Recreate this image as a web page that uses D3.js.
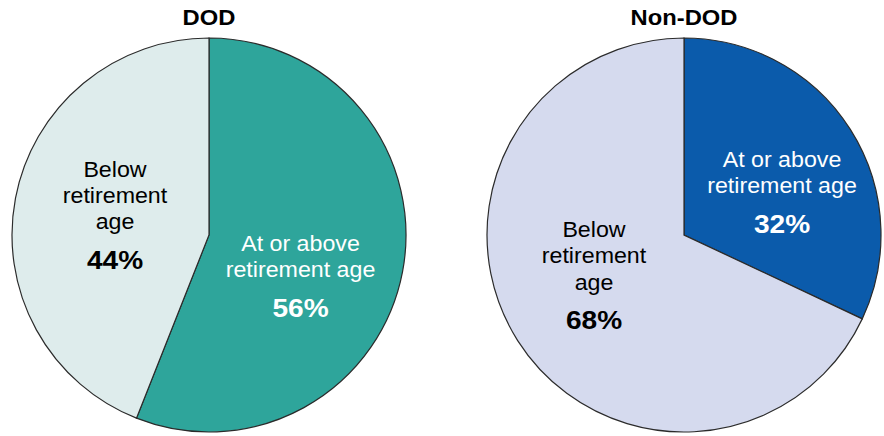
<!DOCTYPE html>
<html>
<head>
<meta charset="utf-8">
<script src="https://cdn.jsdelivr.net/npm/d3@7"></script>
<style>
  body { margin: 0; background: #fff; }
  svg { display: block; font-family: Arial, "Liberation Sans", sans-serif; }
</style>
</head>
<body>
<svg id="chart" width="884" height="436"></svg>
<script>
// Data
const panels = ["DOD", "Non-DOD"];
const categories = ["At or above retirement age", "Below retirement age"];
const dodValues = [56, 44];
const nonDodValues = [32, 68];
const dodColors = ["#2ea59b", "#deecec"];
const nonDodColors = ["#0b5bab", "#d5daee"];

const svg = d3.select("#chart");
const r = 197;
const cy = 235;
const centers = [209, 684];

const pie = d3.pie().sort(null).value(d => d).startAngle(0).endAngle(2 * Math.PI);
const arc = d3.arc().innerRadius(0).outerRadius(r);

// label layouts: [category index] -> {x, lines baselines, pct baseline, color}
const labelLayouts = [
  [
    { x: 300.5, lines: ["At or above", "retirement age"], ys: [251, 277], pctY: 316.5, color: "#fff" },
    { x: 115, lines: ["Below", "retirement", "age"], ys: [176.5, 202.5, 228.5], pctY: 269, color: "#000" }
  ],
  [
    { x: 782, lines: ["At or above", "retirement age"], ys: [166.5, 193], pctY: 232.5, color: "#fff" },
    { x: 594, lines: ["Below", "retirement", "age"], ys: [236.5, 263, 289.5], pctY: 329, color: "#000" }
  ]
];

const allValues = [dodValues, nonDodValues];
const allColors = [dodColors, nonDodColors];
const sx = 1.08;

panels.forEach((name, i) => {
  const g = svg.append("g").attr("transform", `translate(${centers[i]},${cy})`);
  g.selectAll("path")
    .data(pie(allValues[i]))
    .enter().append("path")
    .attr("d", arc)
    .attr("fill", (d, j) => allColors[i][j])
    .attr("stroke", "#2b2b2b")
    .attr("stroke-width", 1.2);

  svg.append("text")
    .attr("transform", `translate(${centers[i]},25) scale(${sx},1)`)
    .attr("text-anchor", "middle")
    .attr("font-size", 22)
    .attr("font-weight", "bold")
    .attr("fill", "#000")
    .text(name);

  allValues[i].forEach((v, j) => {
    const L = labelLayouts[i][j];
    L.lines.forEach((line, k) => {
      svg.append("text")
        .attr("transform", `translate(${L.x},${L.ys[k]}) scale(${sx},1)`)
        .attr("text-anchor", "middle")
        .attr("font-size", 21.5)
        .attr("fill", L.color)
        .text(line);
    });
    svg.append("text")
      .attr("transform", `translate(${L.x},${L.pctY}) scale(${sx},1)`)
      .attr("text-anchor", "middle")
      .attr("font-size", 26)
      .attr("font-weight", "bold")
      .attr("fill", L.color)
      .text(v + "%");
  });
});
</script>
</body>
</html>
